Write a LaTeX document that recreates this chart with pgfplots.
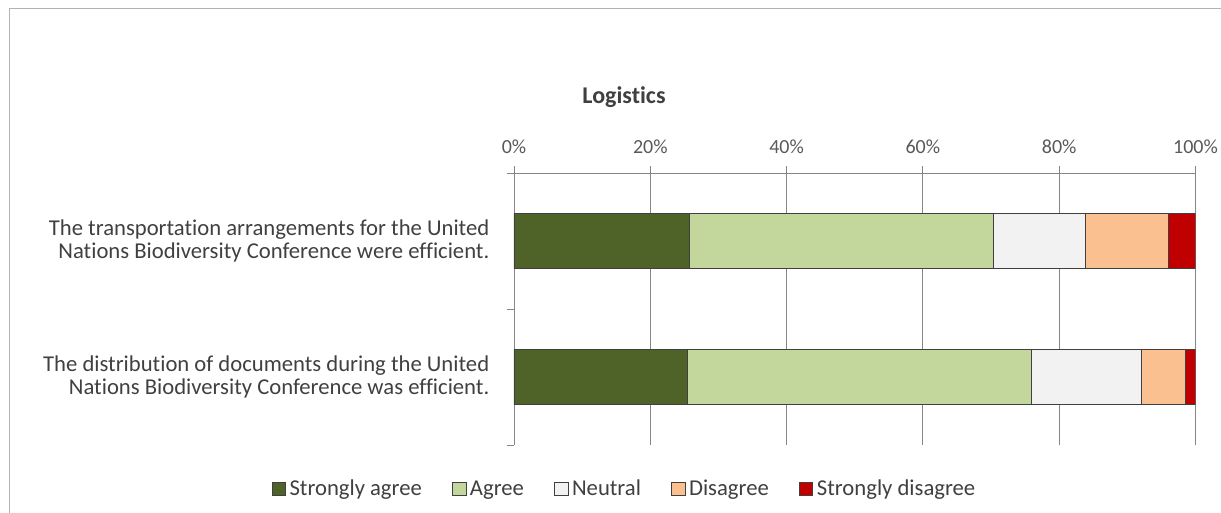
\documentclass[border=0pt]{standalone}
\usepackage{pgfplots}
\pgfplotsset{compat=1.18}
\usepackage{fontspec}
\setmainfont{Carlito}[Ligatures=NoCommon]
\definecolor{sa}{HTML}{4F6228}
\definecolor{ag}{HTML}{C3D69B}
\definecolor{ne}{HTML}{F2F2F2}
\definecolor{di}{HTML}{FAC090}
\definecolor{sd}{HTML}{C00000}
\definecolor{txt}{HTML}{404040}
\definecolor{tick}{HTML}{595959}
\definecolor{axl}{HTML}{868686}
\begin{document}
\begin{tikzpicture}[x=0.75pt,y=-0.75pt]
\path[use as bounding box] (0,0) rectangle (1221,513);
\draw[gray!60, line width=0.75pt] (9,513) -- (9,9) -- (1221,9);
\node[font=\fontsize{18}{21}\selectfont\bfseries, text=txt] at (624,97) {Logistics};
\begin{axis}[
  at={(385.5pt,-333.75pt)}, anchor=south west,
  scale only axis, width=511.1pt, height=204pt,
  xbar stacked, bar width=41.25pt,
  xmin=0, xmax=100, ymin=-0.5, ymax=1.5,
  axis x line*=top, axis y line*=left,
  xtick={0,20,...,100},
  xticklabel={\pgfmathprintnumber{\tick}\%},
  xticklabel style={font=\fontsize{15}{18}\selectfont, text=tick, yshift=6pt},
  /pgf/number format/assume math mode=true,
  xmajorgrids, grid style={axl, line width=0.6pt},
  ytick={-0.5,0.5,1.5}, yticklabels={},
  extra y ticks={0,1},
  extra y tick labels={{The distribution of documents during the United\\Nations Biodiversity Conference was efficient.},{The transportation arrangements for the United\\Nations Biodiversity Conference were efficient.}},
  extra y tick style={major tick length=0pt, grid=none,
    yticklabel style={align=right, font=\fontsize{17}{17.25}\selectfont, text=txt, xshift=-15pt}},
  tick align=outside, major tick length=5pt,
  axis line style={axl, line width=0.6pt}, tick style={axl, line width=0.6pt},
  every axis plot/.append style={draw=black!75, line width=0.6pt},
  legend columns=5,
  legend style={draw=none, at={(0.1614,-0.162)}, anchor=center,
    font=\fontsize{17}{20}\selectfont, text=txt,
    nodes={inner sep=0.75pt},
    /tikz/every odd column/.append style={column sep=2pt},
    /tikz/every even column/.append style={column sep=22pt}},
  legend image code/.code={\draw[#1, line width=0.6pt] (0pt,-5pt) rectangle (10pt,5pt);},
]
\addplot[fill=sa] coordinates {(25.5,0) (25.7,1)};
\addplot[fill=ag] coordinates {(50.4,0) (44.6,1)};
\addplot[fill=ne] coordinates {(16.2,0) (13.6,1)};
\addplot[fill=di] coordinates {(6.4,0) (12.1,1)};
\addplot[fill=sd] coordinates {(1.5,0) (4.0,1)};
\legend{Strongly agree, Agree, Neutral, Disagree, Strongly disagree}
\end{axis}
\end{tikzpicture}
\end{document}
